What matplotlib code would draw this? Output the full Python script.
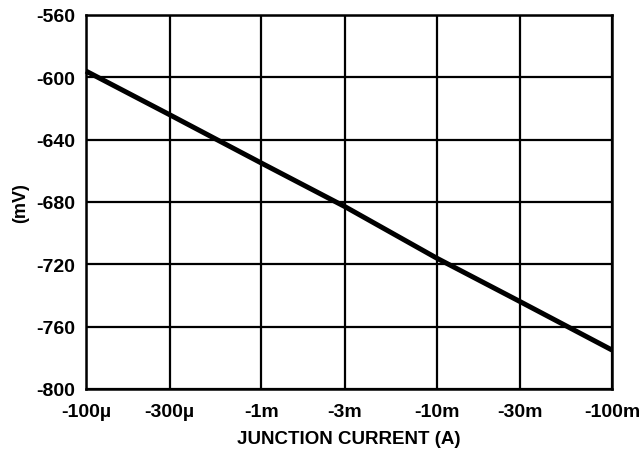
import numpy as np
import matplotlib
matplotlib.use("Agg")
import matplotlib.pyplot as plt

plt.rcParams['font.family'] = ['Liberation Sans', 'DejaVu Sans']
plt.rcParams['font.weight'] = 'bold'

# Data
junction_current = [-100e-6, -300e-6, -1e-3, -3e-3, -10e-3, -30e-3, -100e-3]  # A
voltage_mv = [-596, -624, -655, -683, -716, -744, -775]

tick_currents = [-100e-6, -300e-6, -1e-3, -3e-3, -10e-3, -30e-3, -100e-3]
tick_labels = ['-100µ', '-300µ', '-1m', '-3m', '-10m', '-30m', '-100m']
y_ticks = [-800, -760, -720, -680, -640, -600, -560]

fig = plt.figure(figsize=(6.39, 4.52), dpi=100)
ax = fig.add_axes([86/639, 1-390/452, (612-86)/639, (390-16)/452])

ax.plot(np.abs(junction_current), voltage_mv, color='black', lw=3.6,
        solid_capstyle='butt', solid_joinstyle='round', zorder=3, clip_on=False)

ax.set_xscale('log')
ax.set_xlim(100e-6, 100e-3)
ax.set_ylim(-800, -560)
ax.set_xticks(np.abs(tick_currents))
ax.set_xticklabels(tick_labels)
ax.xaxis.set_minor_locator(matplotlib.ticker.NullLocator())
ax.set_yticks(y_ticks)
ax.set_yticklabels([str(v) for v in y_ticks])

ax.grid(True, which='major', color='black', lw=1.6)
for s in ax.spines.values():
    s.set_linewidth(1.8)
ax.tick_params(axis='y', length=0, labelsize=14, pad=8)
ax.tick_params(axis='x', length=0, labelsize=14, pad=10)
for lbl in ax.get_xticklabels() + ax.get_yticklabels():
    lbl.set_fontweight('bold')

ax.set_xlabel('JUNCTION CURRENT (A)', fontsize=13.5, fontweight='bold', labelpad=7)
ax.set_ylabel('(mV)', fontsize=13, fontweight='bold', labelpad=5)

fig.savefig('out.png', dpi=100)
